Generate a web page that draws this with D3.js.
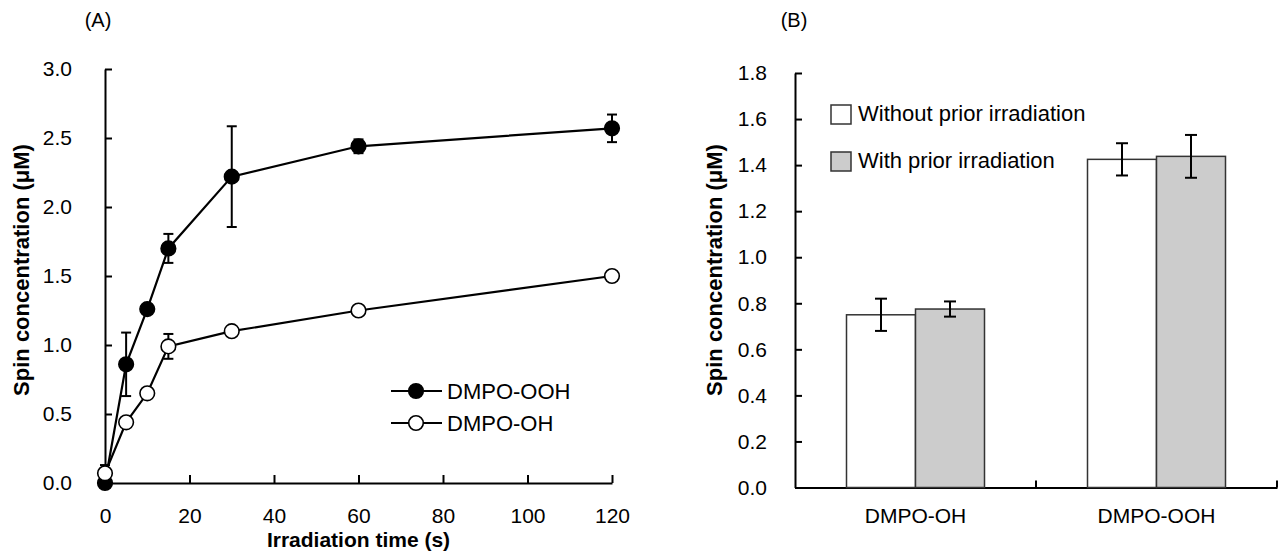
<!DOCTYPE html>
<html>
<head>
<meta charset="utf-8">
<script src="https://cdn.jsdelivr.net/npm/d3@7"></script>
<style>
  html, body { margin: 0; padding: 0; background: #fff; }
  svg { display: block; font-family: "Liberation Sans", Arial, Helvetica, sans-serif; }
</style>
</head>
<body>
<svg id="chart" width="1282" height="556"></svg>
<script>
// ---------- Panel A data ----------
const timesA = [0, 5, 10, 15, 30, 60, 120];
const oohA = [0.00, 0.86, 1.26, 1.70, 2.22, 2.44, 2.57];
const oohErrA = [0.02, 0.23, 0.03, 0.105, 0.365, 0.05, 0.10];
const ohA = [0.07, 0.44, 0.65, 0.99, 1.10, 1.25, 1.50];
const ohErrA = [0.06, 0.03, 0.03, 0.09, 0.03, 0.03, 0.03];
const seriesNamesA = ["DMPO-OOH", "DMPO-OH"];
const xTicksA = [0, 20, 40, 60, 80, 100, 120];
const yTicksA = [0, 0.5, 1.0, 1.5, 2.0, 2.5, 3.0];

// ---------- Panel B data ----------
const categoriesB = ["DMPO-OH", "DMPO-OOH"];
const seriesNamesB = ["Without prior irradiation", "With prior irradiation"];
const withoutB = [0.75, 1.425];
const withoutErrB = [0.07, 0.07];
const withB = [0.775, 1.438];
const withErrB = [0.033, 0.093];
const yTicksB = [0, 0.2, 0.4, 0.6, 0.8, 1.0, 1.2, 1.4, 1.6, 1.8];

const svg = d3.select("#chart");
const FS = 21;

// ================= Panel A =================
const xA = d3.scaleLinear().domain([0, 120]).range([105, 612]);
const yA = d3.scaleLinear().domain([0, 3]).range([483, 69]);
const gA = svg.append("g");

const axA = gA.append("g").attr("transform", `translate(0,${yA(0)})`)
  .call(d3.axisBottom(xA).tickValues(xTicksA).tickFormat(d3.format("d"))
    .tickSizeInner(-8).tickSizeOuter(0).tickPadding(25));
const ayA = gA.append("g").attr("transform", `translate(${xA(0)},0)`)
  .call(d3.axisLeft(yA).tickValues(yTicksA).tickFormat(d3.format(".1f"))
    .tickSizeInner(-7).tickSizeOuter(0).tickPadding(33));
[axA, ayA].forEach(a => {
  a.selectAll("path.domain").attr("stroke", "#000").attr("stroke-width", 2);
  a.selectAll(".tick line").attr("stroke", "#000").attr("stroke-width", 2);
  a.selectAll("text").attr("font-size", FS).attr("fill", "#000")
    .attr("font-family", "'Liberation Sans', Arial, sans-serif");
});

const seriesA = [
  { name: seriesNamesA[0], vals: oohA, errs: oohErrA, fill: "#000" },
  { name: seriesNamesA[1], vals: ohA, errs: ohErrA, fill: "#fff" }
];
const line = d3.line().x(d => xA(d.t)).y(d => yA(d.v));

seriesA.forEach(s => {
  const pts = timesA.map((t, i) => ({ t, v: s.vals[i], e: s.errs[i] }));
  const g = gA.append("g");
  const eb = g.selectAll("g.err").data(pts).join("g");
  eb.append("line").attr("x1", d => xA(d.t)).attr("x2", d => xA(d.t))
    .attr("y1", d => yA(d.v - d.e)).attr("y2", d => yA(d.v + d.e))
    .attr("stroke", "#000").attr("stroke-width", 2);
  [-1, 1].forEach(sg => {
    eb.append("line").attr("x1", d => xA(d.t) - 5).attr("x2", d => xA(d.t) + 5)
      .attr("y1", d => yA(d.v + sg * d.e)).attr("y2", d => yA(d.v + sg * d.e))
      .attr("stroke", "#000").attr("stroke-width", 2);
  });
  g.append("path").datum(pts).attr("d", line).attr("fill", "none")
    .attr("stroke", "#000").attr("stroke-width", 2.2);
  g.selectAll("circle").data(pts).join("circle")
    .attr("cx", d => xA(d.t)).attr("cy", d => yA(d.v)).attr("r", 7.3)
    .attr("fill", s.fill).attr("stroke", "#000").attr("stroke-width", 1.6);
});

// legend A
const legA = gA.append("g");
seriesA.forEach((s, i) => {
  const y = 391 + i * 32;
  legA.append("line").attr("x1", 391).attr("x2", 442).attr("y1", y).attr("y2", y)
    .attr("stroke", "#000").attr("stroke-width", 2.2);
  legA.append("circle").attr("cx", 416).attr("cy", y).attr("r", 7.3)
    .attr("fill", s.fill).attr("stroke", "#000").attr("stroke-width", 1.6);
  legA.append("text").attr("x", 447).attr("y", y).attr("dy", "0.36em")
    .attr("font-size", 22).text(s.name);
});

gA.append("text").attr("x", 358.5).attr("y", 547).attr("text-anchor", "middle")
  .attr("font-size", 21).attr("font-weight", "bold").text("Irradiation time (s)");
gA.append("text").attr("transform", "translate(29,270) rotate(-90)")
  .attr("text-anchor", "middle").attr("font-size", 22).attr("font-weight", "bold")
  .text("Spin concentration (μM)");
gA.append("text").attr("x", 98).attr("y", 27).attr("text-anchor", "middle")
  .attr("font-size", 20).text("(A)");

// ================= Panel B =================
const xB = d3.scaleBand().domain(categoriesB).range([795, 1277]).padding(0);
const groupW = 138;
const xSub = d3.scaleBand().domain(seriesNamesB)
  .range([(xB.bandwidth() - groupW) / 2, (xB.bandwidth() + groupW) / 2]).padding(0);
const yB = d3.scaleLinear().domain([0, 1.8]).range([487.5, 73]);
const gB = svg.append("g");

const axB = gB.append("g").attr("transform", `translate(0,${yB(0)})`)
  .call(d3.axisBottom(xB).tickSizeInner(0).tickSizeOuter(0).tickPadding(21));
const ayB = gB.append("g").attr("transform", `translate(${xB.range()[0]},0)`)
  .call(d3.axisLeft(yB).tickValues(yTicksB).tickFormat(d3.format(".1f"))
    .tickSizeInner(-7).tickSizeOuter(0).tickPadding(28));
[axB, ayB].forEach(a => {
  a.selectAll("path.domain").attr("stroke", "#000").attr("stroke-width", 2);
  a.selectAll(".tick line").attr("stroke", "#000").attr("stroke-width", 2);
  a.selectAll("text").attr("font-size", FS).attr("fill", "#000")
    .attr("font-family", "'Liberation Sans', Arial, sans-serif");
});
gB.selectAll("line.bt").data(categoriesB).join("line")
  .attr("x1", d => xB(d) + xB.bandwidth()).attr("x2", d => xB(d) + xB.bandwidth())
  .attr("y1", yB(0)).attr("y2", yB(0) - 7)
  .attr("stroke", "#000").attr("stroke-width", 2);

const barsData = [];
categoriesB.forEach((c, i) => {
  barsData.push({ c, s: seriesNamesB[0], v: withoutB[i], e: withoutErrB[i], fill: "#fff" });
  barsData.push({ c, s: seriesNamesB[1], v: withB[i], e: withErrB[i], fill: "#cccccc" });
});
const bars = gB.append("g");
bars.selectAll("rect").data(barsData).join("rect")
  .attr("x", d => xB(d.c) + xSub(d.s)).attr("width", xSub.bandwidth())
  .attr("y", d => yB(d.v)).attr("height", d => yB(0) - yB(d.v))
  .attr("fill", d => d.fill).attr("stroke", "#333").attr("stroke-width", 1.5);
const ebB = gB.append("g").selectAll("g").data(barsData).join("g");
const cx = d => xB(d.c) + xSub(d.s) + xSub.bandwidth() / 2;
ebB.append("line").attr("x1", cx).attr("x2", cx)
  .attr("y1", d => yB(d.v - d.e)).attr("y2", d => yB(d.v + d.e))
  .attr("stroke", "#000").attr("stroke-width", 2);
[-1, 1].forEach(sg => {
  ebB.append("line").attr("x1", d => cx(d) - 6).attr("x2", d => cx(d) + 6)
    .attr("y1", d => yB(d.v + sg * d.e)).attr("y2", d => yB(d.v + sg * d.e))
    .attr("stroke", "#000").attr("stroke-width", 2);
});

// legend B
const legFills = ["#fff", "#cccccc"];
seriesNamesB.forEach((n, i) => {
  const y = 105 + i * 47;
  gB.append("rect").attr("x", 831).attr("y", y).attr("width", 20).attr("height", 19)
    .attr("fill", legFills[i]).attr("stroke", "#333").attr("stroke-width", 1.5);
  gB.append("text").attr("x", 858).attr("y", y + 15.5).attr("font-size", 22).text(n);
});

gB.append("text").attr("transform", "translate(722,270) rotate(-90)")
  .attr("text-anchor", "middle").attr("font-size", 22).attr("font-weight", "bold")
  .text("Spin concentration (μM)");
gB.append("text").attr("x", 794).attr("y", 27).attr("text-anchor", "middle")
  .attr("font-size", 20).text("(B)");
</script>
</body>
</html>
